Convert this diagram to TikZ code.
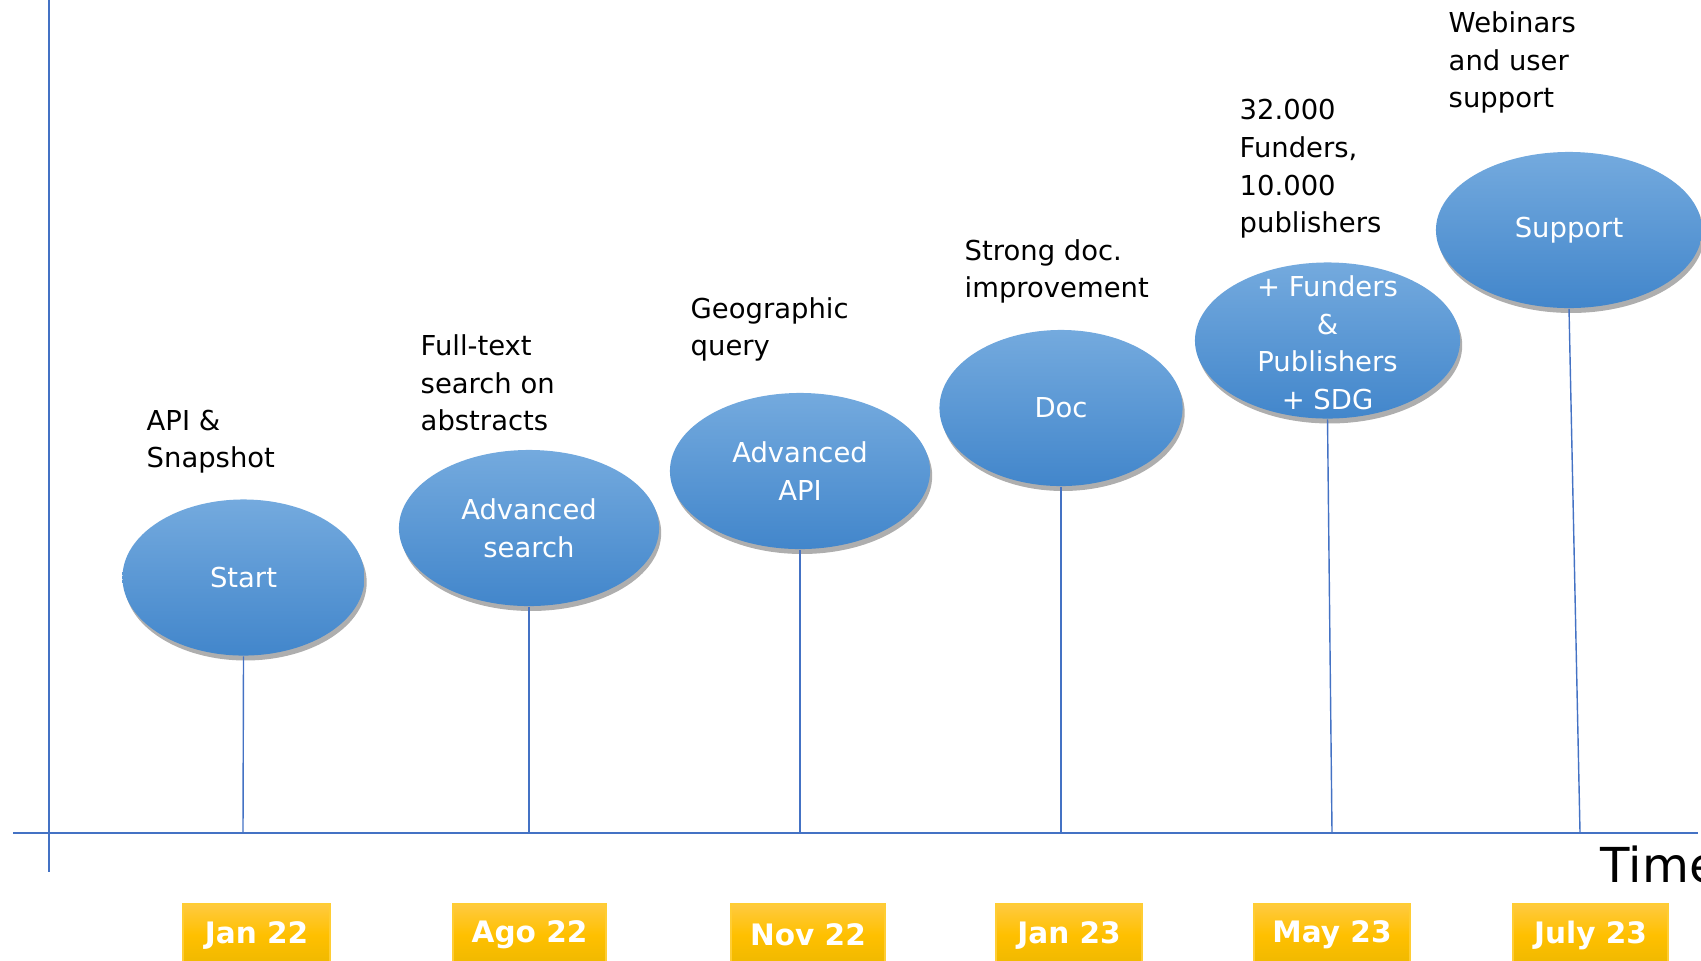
\documentclass[tikz,border=0pt]{standalone}
\usepackage{fontspec}
\setmainfont{DejaVu Sans}
\usetikzlibrary{shapes.geometric,shadows}
\definecolor{axisblue}{RGB}{68,114,196}
\definecolor{eltop}{RGB}{116,170,222}
\definecolor{elbot}{RGB}{66,134,203}
\definecolor{goldtop}{RGB}{255,202,64}
\definecolor{goldmid}{RGB}{255,192,0}
\definecolor{goldbot}{RGB}{238,184,0}
\tikzset{
  milestone/.style={ellipse, inner sep=0pt, minimum width=#1, minimum height=1.56cm,
    top color=eltop, bottom color=elbot, draw=none, text=white, align=center,
    font=\fontsize{7.8}{10.7}\selectfont,
    drop shadow={shadow xshift=0.6pt, shadow yshift=-1.4pt, opacity=0.45, fill=black!70}},
  note/.style={anchor=west, inner sep=0pt, align=left, font=\fontsize{7.8}{10.7}\selectfont},
  datebox/.style={rectangle, inner sep=0pt, minimum width=#1, minimum height=0.62cm,
    top color=goldtop, bottom color=goldbot, middle color=goldmid, draw=goldmid!80!white,
    text=white, font=\fontsize{8.4}{10}\selectfont\bfseries},
  stem/.style={draw=axisblue, line width=0.4pt},
  axis/.style={draw=axisblue, line width=0.6pt}
}
\begin{document}
\begin{tikzpicture}[x=0.01cm, y=-0.01cm]
  \useasboundingbox (0,0) rectangle (1701,960);
  \clip (0,0) rectangle (1701,960);
  % axes
  \coordinate (ytop) at (49,0);
  \coordinate (ybot) at (49,872);
  \coordinate (xleft) at (13,833);
  \coordinate (xright) at (1698,833);
  \draw[axis] (ytop) -- (ybot);
  \draw[axis] (xleft) -- (xright);
  \node[anchor=base west, inner sep=0pt, font=\fontsize{13.7}{16}\selectfont] (time) at (1600,882) {Time};
  % points on the time axis
  \coordinate (t1) at (243,833);
  \coordinate (t2) at (529,833);
  \coordinate (t3) at (800,833);
  \coordinate (t4) at (1061,833);
  \coordinate (t5) at (1332,833);
  \coordinate (t6) at (1580,833);
  % milestones
  \node[milestone=2.42cm] (start) at (243.5,577.5) {Start};
  \node[milestone=2.60cm] (search) at (529,528) {Advanced\\search};
  \node[milestone=2.60cm] (api) at (800,471) {Advanced\\API};
  \node[milestone=2.43cm] (doc) at (1061,408) {Doc};
  \node[milestone=2.65cm] (funders) at (1327.5,340.5)
    {\smash{\raisebox{-0.12cm}{\begin{tabular}{@{}c@{}}+ Funders\\\&\\Publishers\\+ SDG\end{tabular}}}};
  \node[milestone=2.66cm] (support) at (1569,230) {Support};
  \draw[stem] (start.south) -- (t1);
  \draw[stem] (search.south) -- (t2);
  \draw[stem] (api.south) -- (t3);
  \draw[stem] (doc.south) -- (t4);
  \draw[stem] (funders.south) -- (t5);
  \draw[stem] (support.south) -- (t6);
  % notes above the milestones
  \node[note] (n1) at (146,441.5) {API \&\\Snapshot};
  \node[note] (n2) at (420,383) {Full-text\\search on\\abstracts};
  \node[note] (n3) at (690,329.5) {Geographic\\query};
  \node[note] (n4) at (964,271.5) {Strong doc.\\improvement};
  \node[note] (n5) at (1239,169) {32.000\\Funders,\\10.000\\publishers};
  \node[note] (n6) at (1448,62.5) {Webinars\\and user\\support};
  % dates
  \node[datebox=1.47cm] (d1) at (256.5,935) {Jan 22};
  \node[datebox=1.53cm] (d2) at (529.5,935) {Ago 22};
  \node[datebox=1.54cm] (d3) at (808,935) {Nov 22};
  \node[datebox=1.46cm] (d4) at (1069,935) {Jan 23};
  \node[datebox=1.56cm] (d5) at (1332,935) {May 23};
  \node[datebox=1.55cm] (d6) at (1590.5,935) {July 23};
\end{tikzpicture}
\end{document}
